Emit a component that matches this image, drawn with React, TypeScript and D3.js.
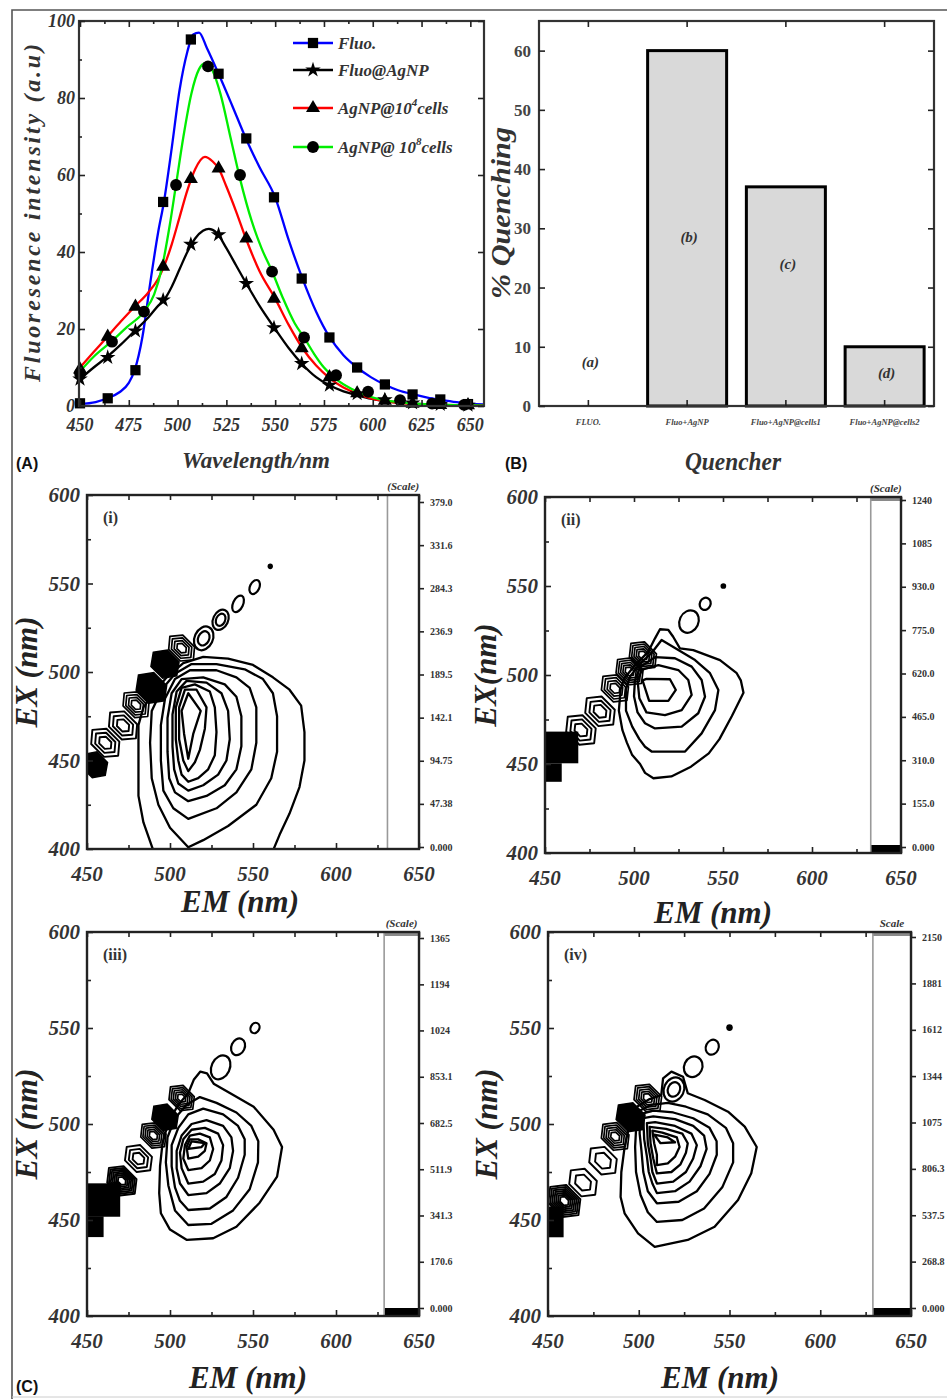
import React, { useEffect, useRef } from 'react';
import * as d3 from 'd3';

const SERIF = '"Liberation Serif", "Times New Roman", Times, serif';
const SANS = '"Liberation Sans", Arial, Helvetica, sans-serif';

// ---------- Panel A: emission spectra [wavelength nm, intensity a.u.] ----------
const fluoCurve = [[450,0.5],[458,1.0],[464,2.0],[470,3.5],[475,6],[478,9.3],[482,18],[486,32],[490,45],[493,53],[497,67],[501,82],[505,92],[508,96.5],[511,97],[515,93],[521,86.3],[528,78],[535,69.5],[542,62],[550,54.2],[557,43],[564,33.1],[571,24.5],[578,17.8],[585,13.2],[592,10],[599,7.5],[606,5.6],[613,4.1],[621,3],[628,2.2],[635,1.6],[643,1],[650,0.6],[657,0.4]];
const fluoMarks = [[450,0.7],[464.2,2.0],[478.4,9.3],[492.6,53],[506.8,95.2],[521,86.3],[535.2,69.5],[549.4,54.2],[563.6,33.1],[577.8,17.8],[592,10],[606.2,5.6],[620.4,3],[634.6,1.7],[648.8,0.5]];

const agnpCurve = [[450,7],[457,10],[464,12.8],[471,16],[478,19.5],[485,23],[490,26],[493,27.5],[497,31],[501,35.5],[505,40],[509,43.5],[513,45.5],[516,46],[520,45],[525,41],[530,36.5],[535,32],[542,26],[550,20],[557,15],[564,10.8],[571,7.5],[578,5.3],[585,3.8],[592,2.8],[599,1.9],[606,1.3],[613,0.9],[621,0.6],[635,0.3],[657,0.1]];
const agnpMarks = [[450,7],[464.2,12.6],[478.4,19.5],[492.6,27.5],[506.8,42],[521,44.5],[535.2,31.8],[549.4,20.3],[563.6,11],[577.8,5.4],[592,3.2],[606.2,1.6],[620.4,0.8],[634.6,0.4],[648.8,0.2]];

const cells4Curve = [[450,10],[457,14],[464,18],[471,22],[478,25.8],[485,29.5],[490,33],[493,36.2],[497,42],[501,49],[505,56],[509,61.5],[514,64.7],[518,63.5],[521,61.7],[525,57],[530,50.5],[535,43.5],[542,35],[550,27.9],[557,21],[564,15],[571,10.5],[578,7.2],[585,4.8],[592,3.2],[599,2.0],[606,1.3],[613,0.8],[621,0.5],[635,0.3],[657,0.1]];
const cells4Marks = [[450,9.5],[464.2,18],[478.4,25.8],[492.6,36.2],[506.8,59],[521,61.7],[535.2,43.5],[549.4,27.9],[563.6,15],[577.8,7.5],[592,3.3],[606.2,1.4],[620.4,0.6],[634.6,0.3],[648.8,0.2]];

const cells8Curve = [[450,9],[457,12.8],[466,16.7],[474,20.5],[482.8,24.5],[488,29],[492,36],[496,47],[499.2,57.5],[503,70],[507,81],[511,87.5],[514,89],[518,87],[522,81],[527,70],[532,59],[538,48],[543,41],[548.4,35],[554,28],[560,21.5],[564.8,17.8],[570,13.5],[575,10],[581.2,7],[589,4.5],[597.6,2.6],[605,1.6],[614,1.0],[622,0.6],[630.4,0.4],[646.8,0.2],[657,0.1]];
const cells8Marks = [[450,8.5],[466.4,16.7],[482.8,24.5],[499.2,57.4],[515.6,88.2],[532,60],[548.4,34.9],[564.8,17.8],[581.2,8],[597.6,3.7],[614,1.5],[630.4,0.6],[646.8,0.3]];

const wlTicks = [450, 475, 500, 525, 550, 575, 600, 625, 650];
const wlMinor = [462.5, 487.5, 512.5, 537.5, 562.5, 587.5, 612.5, 637.5];
const intTicks = [0, 20, 40, 60, 80, 100];
const intMinor = [10, 30, 50, 70, 90];

// ---------- Panel B: % quenching ----------
const quenchers = ['FLUO.', 'Fluo+AgNP', 'Fluo+AgNP@cells1', 'Fluo+AgNP@cells2'];
const quenchValues = [0, 60, 37, 10];
const barTags = ['(a)', '(b)', '(c)', '(d)'];
const tagLevels = [7.5, 28.5, 24, 5.5];
const quenchTicks = [0, 10, 20, 30, 40, 50, 60];

// ---------- Panel C: EEM contour maps [EM nm, EX nm] ----------
const emTicks = [450, 500, 550, 600, 650];
const emMinor = [475, 525, 575, 625];
const exTicks = [400, 450, 500, 550, 600];
const exMinor = [425, 475, 525, 575];

const scaleLabelsI = ['0.000', '47.38', '94.75', '142.1', '189.5', '236.9', '284.3', '331.6', '379.0'];
const scaleLabelsII = ['0.000', '155.0', '310.0', '465.0', '620.0', '775.0', '930.0', '1085', '1240'];
const scaleLabelsIII = ['0.000', '170.6', '341.3', '511.9', '682.5', '853.1', '1024', '1194', '1365'];
const scaleLabelsIV = ['0.000', '268.8', '537.5', '806.3', '1075', '1344', '1612', '1881', '2150'];

const ringsI = [
  [[490,399],[484,415],[481,430],[481,450],[481,470],[484,480],[490,488],[498,497],[508,505],[520,508.5],[535,507.5],[550,504],[562,497],[572,490],[579,481],[581,466],[581,450],[578,435],[572,420],[566,408],[562,399]],
  [[511,401],[520,405],[535,413],[552,425],[561,440],[564.5,455],[564.5,475],[562,488],[556,496],[545,501.5],[528,504.5],[513,504.5],[503,499],[495,490],[489,478],[488,460],[489,440],[493,425],[500,412]],
  [[511,417],[528,423],[540,432],[549,445],[552,460],[552,480],[548,491],[540,497],[528,501],[512,501],[503,496],[497,485],[494.5,470],[494.5,450],[496,433],[502,423]],
  [[511,427],[522,430],[533,436],[540,445],[543,458],[543,475],[540,486],[533,493],[520,497],[507,496],[501,488],[498.5,474],[498.5,455],[499.5,440],[503,432]],
  [[511,433],[520,436],[529,442],[534,450],[536,462],[535,478],[531,488],[522,494],[510,495],[504,489],[501.5,476],[501.5,458],[502.5,445],[505,437]],
  [[511,438],[517,440],[523,445],[527,453],[528,466],[527,480],[524,489],[515,493],[507,491],[503.5,480],[503.5,462],[505,450],[507,442]],
  [[511,444],[515,449],[518,456],[521,468],[522,480],[516,490],[509,490],[505.5,480],[505.5,462],[508,450]],
  [[511,451],[514,465],[518.5,478],[511,488],[507,478],[508.5,465]],
];
const scatterI = [
  [454.6, 447.6, 9, 6.5, 1, 'fill'],
  [461, 460, 11, 6.5, 3, 'hex'],
  [471.7, 469.8, 11, 6.5, 3, 'hex'],
  [479.5, 481.5, 10, 6, 4, 'chev'],
  [488.8, 491, 11, 7.5, 1, 'fill'],
  [497, 504.5, 10, 7, 1, 'fill'],
  [507, 513.5, 10, 6, 4, 'chev'],
  [520.3, 519, 5.5, 7, 2, 'oval'],
  [530.5, 529.5, 4.5, 6, 2, 'oval'],
  [541, 538.5, 3, 5, 1, 'oval'],
  [551, 548, 2.8, 4.2, 1, 'oval'],
  [560.4, 559.7, 1.6, 1.6, 1, 'dot'],
];

const ringsII = [
  [[510.9,442],[521,443],[532,448.5],[542,456],[548,464],[555,477],[561.5,490],[560,497],[557.7,501],[548.3,508.4],[533.3,514],[525.8,515],[522,521.5],[519.3,525.3],[514.6,525.7],[511.8,520.6],[508,513],[501,506],[494.5,498],[492.5,492],[491.5,480],[493.5,469],[496,462],[499,455],[503.4,450],[506.2,445]],
  [[509.9,457],[528.7,457],[538,467.2],[545.5,480.3],[547.4,491.6],[542.7,501],[534.3,508.4],[524.9,514],[515.5,519.7],[510,512.5],[504,507],[498,499.5],[495.5,492],[495.5,480],[499,471],[503,464],[506.2,459.7]],
  [[511.8,470],[526.8,471],[536.1,478.5],[539.9,487.8],[538,497.2],[532.4,504.7],[523,509.4],[511.8,510],[503.5,504.5],[500.5,497],[500,488],[502,479],[506.2,472.9]],
  [[507,479],[517.4,477.5],[526.8,480.3],[532.4,488.8],[530.5,497.2],[524.9,502.8],[513.7,505.6],[504.5,503],[502,497],[503,487]],
  [[504.8,497],[508.5,485.5],[519.3,485.5],[523.5,491.6],[520.2,497.6],[507,497.8]],
];
const scatterII = [
  [459.35, 459.3, 9.35, 8.9, 1, 'rect'],
  [454.7, 445.2, 4.7, 5.2, 1, 'rect'],
  [470.2, 469.1, 10.5, 6.5, 3, 'hex'],
  [480.9, 479.6, 10.5, 6.5, 3, 'hex'],
  [489.3, 492.5, 9.5, 6, 4, 'chev'],
  [497.5, 502, 9.5, 6, 5, 'chev'],
  [505, 511, 9.5, 6, 5, 'chev'],
  [530.9, 530, 5.3, 6.5, 1, 'oval'],
  [540, 540, 3, 3.5, 1, 'oval'],
  [550.2, 550, 1.6, 1.6, 1, 'dot'],
];

const ringsIII = [
  [[510.2,439.6],[526,440.5],[540,446.5],[554,459],[564.5,472.6],[567.5,488],[562.4,497],[550.4,509],[536.3,516],[526.3,521],[522.3,526.4],[518.3,527.3],[514.3,523],[511,516],[505,510],[499,501],[495.5,490],[494,478],[493.5,464],[494.5,453.5],[500,445]],
  [[511,447.4],[525,448],[538,455],[548,466],[553,480],[553.2,491],[549,499],[540,506],[528,511],[518,514],[510,510],[503,503],[498.5,493],[497.5,480],[499,468],[503,455]],
  [[511,455.2],[524,456],[534,462],[541,472],[545,484],[545,492],[541,499],[532,505],[520,508],[511,505],[505,498],[501,489],[501,478],[503,467],[506,460]],
  [[511,463],[522,464],[530,469],[536,477],[538,486],[537,493],[532,499],[522,502],[513,500],[507,494],[504,486],[504,477],[506,469]],
  [[511,469],[520,470],[527,474],[531,481],[532,489],[529,495],[521,498],[513,497],[508,492],[506,485],[507,477]],
  [[511,476],[519,477],[524,481],[526,487],[524,493],[518,495],[512,494],[509,489],[508,482]],
  [[511,482],[517,483],[521,486],[522,490],[517,492],[512,492],[510,488]],
  [[511,487],[519,488],[521,490],[513,491]],
];
const scatterIII = [
  [460, 460.4, 10, 8.7, 1, 'rect'],
  [455, 446.5, 5, 5.4, 1, 'rect'],
  [471, 470.4, 11, 7, 7, 'hex'],
  [481, 482, 10, 6.5, 3, 'hex'],
  [490, 494, 9.5, 6, 5, 'chev'],
  [497, 503.5, 9.5, 6.5, 1, 'fill'],
  [507, 513.5, 9.5, 6, 5, 'chev'],
  [530.5, 529.5, 5.5, 6.5, 1, 'oval'],
  [541, 540.2, 4, 4.5, 1, 'oval'],
  [551.2, 550, 2.6, 2.8, 1, 'oval'],
];

const ringsIV = [
  [[508.8,436],[527,439.6],[541.8,446.5],[554.7,460.4],[562,474.3],[565,488],[558.4,498.6],[549.2,506.4],[536.3,512.5],[527,516],[524.4,524.6],[518,527.3],[513.4,523.8],[512.4,515],[506,513],[499,509],[495,500],[492.2,488],[490.4,475],[490,462],[492.2,453.5],[499.6,443]],
  [[510,449],[524,450],[536,456],[546,467],[552,480],[552,490],[548,498],[538,505],[526,509],[516,511],[507,510],[498.5,506],[498.5,497],[498,488],[498.5,475],[501,463],[505,454]],
  [[510,458.7],[522,459.5],[532,465],[539,474],[543,484],[542.9,491],[539,498],[530,503],[519,506],[508,507],[500.5,505],[500.5,495],[501.5,486],[502.5,475],[505,465]],
  [[510,464],[520,465],[528,470],[534,478],[537.4,487],[536,494],[530,499],[520,502.5],[508,504],[502.5,503],[503,492],[504.5,483],[505.5,475],[507.5,469]],
  [[510,469],[519,470],[526,475],[530,482],[532,489],[529,495],[520,499],[509,501],[504.5,500.5],[505,490],[506.5,482],[507.5,475]],
  [[510,474.3],[518,475],[523,479],[526,485],[527,490],[524,495],[515,497.5],[506,498.5],[506.5,490],[508,482],[509,478]],
  [[510,478.6],[516,479.5],[520,483],[522.5,488],[521,493],[513,495.5],[507.5,496.5],[508.5,490],[510,484]],
  [[508.5,494.5],[512,490],[520,490.5],[516,493]],
];
const scatterIV = [
  [454.3, 449, 4.3, 8, 1, 'rect'],
  [459, 459.9, 11, 7, 7, 'hex'],
  [469.3, 469.5, 9.5, 6, 2, 'hex'],
  [480.3, 480.9, 9.5, 6, 2, 'hex'],
  [487, 493.5, 9.5, 6, 5, 'chev'],
  [495.5, 503.5, 9.5, 6.5, 1, 'fill'],
  [505, 513.5, 9.5, 6, 5, 'chev'],
  [519.4, 518, 5.5, 6.5, 2, 'oval'],
  [530, 529.8, 5, 5.5, 1, 'oval'],
  [540.5, 540, 3.5, 4, 1, 'oval'],
  [550, 550.2, 1.8, 1.8, 1, 'dot'],
];

const series = [
  { label: [['Fluo.', 0]], color: '#0000ff', symbol: d3.symbolSquare, size: 105, curve: fluoCurve, marks: fluoMarks },
  { label: [['Fluo@AgNP', 0]], color: '#000000', symbol: d3.symbolStar, size: 75, curve: agnpCurve, marks: agnpMarks },
  { label: [['AgNP@10', 0], ['4', 1], ['cells', 0]], color: '#ff0000', symbol: d3.symbolTriangle, size: 85, curve: cells4Curve, marks: cells4Marks },
  { label: [['AgNP@ 10', 0], ['8', 1], ['cells', 0]], color: '#00ee00', symbol: d3.symbolCircle, size: 110, curve: cells8Curve, marks: cells8Marks },
];

const eemPanels = [
  { tag: '(i)', rings: ringsI, scatter: scatterI, labels: scaleLabelsI, title: '(Scale)', bands: false, exText: 'EX (nm)',
    x0: 87, x1: 419, y0: 495, y1: 849, barStart: 631, sTop: 502, sBot: 847, exX: 27, emX: 240, emY: 912 },
  { tag: '(ii)', rings: ringsII, scatter: scatterII, labels: scaleLabelsII, title: '(Scale)', bands: true, exText: 'EX(nm)',
    x0: 545, x1: 901, y0: 497, y1: 853, barStart: 633, sTop: 500, sBot: 847, exX: 486, emX: 713, emY: 923 },
  { tag: '(iii)', rings: ringsIII, scatter: scatterIII, labels: scaleLabelsIII, title: '(Scale)', bands: true, exText: 'EX (nm)',
    x0: 87, x1: 419, y0: 932, y1: 1316, barStart: 629, sTop: 938, sBot: 1308, exX: 27, emX: 248, emY: 1388 },
  { tag: '(iv)', rings: ringsIV, scatter: scatterIV, labels: scaleLabelsIV, title: 'Scale', bands: true, exText: 'EX (nm)',
    x0: 548, x1: 911, y0: 932, y1: 1316, barStart: 629, sTop: 937, sBot: 1308, exX: 487, emX: 720, emY: 1388 },
];

function styleTicks(g: any) {
  g.select('.domain').remove();
  g.selectAll('.tick line').attr('stroke', '#222').attr('stroke-width', 1.6);
  g.selectAll('.tick text').remove();
}

function serifText(sel: any, size: number, italic = true) {
  return sel.attr('font-family', SERIF).attr('font-weight', 'bold')
    .attr('font-style', italic ? 'italic' : 'normal').attr('font-size', size).attr('fill', '#333');
}

function drawSpectra(svg: any) {
  const x = d3.scaleLinear().domain([450, 657]).range([80, 484]);
  const y = d3.scaleLinear().domain([0, 100]).range([406, 21]);
  const g = svg.append('g');
  const line = d3.line<number[]>().x(d => x(d[0])).y(d => y(d[1])).curve(d3.curveMonotoneX);

  series.forEach(s => {
    g.append('path').attr('d', line(s.curve as any)).attr('fill', 'none')
      .attr('stroke', s.color).attr('stroke-width', 2.3);
  });
  series.forEach(s => {
    g.append('g').selectAll('path').data(s.marks).join('path')
      .attr('transform', (d: number[]) => `translate(${x(d[0])},${y(d[1])})`)
      .attr('d', d3.symbol(s.symbol, s.size)()).attr('fill', '#000');
  });

  g.append('rect').attr('x', 79).attr('y', 21).attr('width', 405).attr('height', 385)
    .attr('fill', 'none').attr('stroke', '#333').attr('stroke-width', 2.2);

  g.append('g').attr('transform', 'translate(0,406)').call(d3.axisBottom(x).tickValues(wlTicks).tickSize(-6)).call(styleTicks);
  g.append('g').attr('transform', 'translate(0,406)').call(d3.axisBottom(x).tickValues(wlMinor).tickSize(-3)).call(styleTicks);
  g.append('g').attr('transform', 'translate(0,21)').call(d3.axisTop(x).tickValues(wlTicks).tickSize(-6)).call(styleTicks);
  g.append('g').attr('transform', 'translate(0,21)').call(d3.axisTop(x).tickValues(wlMinor).tickSize(-3)).call(styleTicks);
  g.append('g').attr('transform', 'translate(79,0)').call(d3.axisLeft(y).tickValues(intTicks).tickSize(-6)).call(styleTicks);
  g.append('g').attr('transform', 'translate(79,0)').call(d3.axisLeft(y).tickValues(intMinor).tickSize(-3)).call(styleTicks);
  g.append('g').attr('transform', 'translate(484,0)').call(d3.axisRight(y).tickValues(intTicks).tickSize(-6)).call(styleTicks);

  g.append('g').selectAll('text').data(wlTicks).join('text')
    .attr('x', (d: number) => x(d)).attr('y', 431).attr('text-anchor', 'middle').text((d: number) => d)
    .call(serifText, 18);
  g.append('g').selectAll('text').data(intTicks).join('text')
    .attr('x', 75).attr('y', (d: number) => y(d) + 6).attr('text-anchor', 'end').text((d: number) => d)
    .call(serifText, 18);

  // legend
  const lg = g.append('g');
  const rows = [43, 70, 108, 147];
  series.forEach((s, i) => {
    const ry = rows[i];
    lg.append('line').attr('x1', 293).attr('x2', 333).attr('y1', ry).attr('y2', ry)
      .attr('stroke', s.color).attr('stroke-width', 2.3);
    lg.append('path').attr('transform', `translate(313,${ry})`).attr('d', d3.symbol(s.symbol, s.size)()).attr('fill', '#000');
    const t = lg.append('text').attr('x', 338).attr('y', ry + 6).call(serifText, 17);
    s.label.forEach(([txt, sup], k) => {
      const sp = t.append('tspan').text(txt as string);
      if (sup) sp.attr('dy', -8).attr('font-size', 11);
      else if (k > 0) sp.attr('dy', 8);
    });
  });

  svg.append('text').attr('transform', 'translate(40,213) rotate(-90)').attr('text-anchor', 'middle')
    .call(serifText, 24).attr('textLength', 338).attr('lengthAdjust', 'spacing').text('Fluoresence intensity (a.u)');
  svg.append('text').attr('x', 256).attr('y', 468).attr('text-anchor', 'middle')
    .call(serifText, 24).attr('textLength', 148).attr('lengthAdjust', 'spacingAndGlyphs').text('Wavelength/nm');
  svg.append('text').attr('x', 16).attr('y', 469).attr('font-family', SANS).attr('font-weight', 'bold')
    .attr('font-size', 16).attr('fill', '#111').text('(A)');
}

function drawBars(svg: any) {
  const x = d3.scaleBand().domain(quenchers).range([539, 934]).paddingInner(0.2).paddingOuter(0.1);
  const y = d3.scaleLinear().domain([0, 65]).range([406, 21]);
  const g = svg.append('g');

  g.append('g').selectAll('rect').data(quenchers.filter((_, i) => quenchValues[i] > 0)).join('rect')
    .attr('x', (d: string) => x(d)).attr('width', x.bandwidth())
    .attr('y', (d: string) => y(quenchValues[quenchers.indexOf(d)]))
    .attr('height', (d: string) => y(0) - y(quenchValues[quenchers.indexOf(d)]))
    .attr('fill', '#d9d9d9').attr('stroke', '#000').attr('stroke-width', 3);

  g.append('g').selectAll('text').data(barTags).join('text')
    .attr('x', (_: any, i: number) => (x(quenchers[i]) as number) + x.bandwidth() / 2 + 2)
    .attr('y', (_: any, i: number) => y(tagLevels[i]) + 5).attr('text-anchor', 'middle')
    .call(serifText, 15).text((d: string) => d);

  g.append('rect').attr('x', 539).attr('y', 21).attr('width', 395).attr('height', 385)
    .attr('fill', 'none').attr('stroke', '#333').attr('stroke-width', 2.2);

  const xc = (d: string) => (x(d) as number) + x.bandwidth() / 2;
  g.append('g').selectAll('line').data(quenchers).join('line')
    .attr('x1', xc).attr('x2', xc).attr('y1', 406).attr('y2', 400).attr('stroke', '#222').attr('stroke-width', 1.6);
  g.append('g').selectAll('line').data(quenchers).join('line')
    .attr('x1', xc).attr('x2', xc).attr('y1', 21).attr('y2', 27).attr('stroke', '#222').attr('stroke-width', 1.6);
  g.append('g').attr('transform', 'translate(539,0)').call(d3.axisLeft(y).tickValues(quenchTicks).tickSize(-6)).call(styleTicks);
  g.append('g').attr('transform', 'translate(934,0)').call(d3.axisRight(y).tickValues(quenchTicks).tickSize(-6)).call(styleTicks);

  g.append('g').selectAll('text').data(quenchTicks).join('text')
    .attr('x', 531).attr('y', (d: number) => y(d) + 6).attr('text-anchor', 'end')
    .call(serifText, 17, false).attr('fill', '#444').text((d: number) => d);
  g.append('g').selectAll('text').data(quenchers).join('text')
    .attr('x', xc).attr('y', 425).attr('text-anchor', 'middle')
    .call(serifText, 8.5).attr('fill', '#444').text((d: string) => d);

  svg.append('text').attr('transform', 'translate(510,213) rotate(-90)').attr('text-anchor', 'middle')
    .call(serifText, 27).attr('textLength', 172).attr('lengthAdjust', 'spacingAndGlyphs').text('% Quenching');
  svg.append('text').attr('x', 733).attr('y', 470).attr('text-anchor', 'middle')
    .call(serifText, 26).attr('textLength', 96).attr('lengthAdjust', 'spacingAndGlyphs').text('Quencher');
  svg.append('text').attr('x', 505).attr('y', 469).attr('font-family', SANS).attr('font-weight', 'bold')
    .attr('font-size', 16).attr('fill', '#111').text('(B)');
}

function drawBlob(g: any, b: any[], x: any, y: any) {
  const [em, ex, w, h, rings, kind] = b;
  const kx = x(em + 1) - x(em);
  const ky = y(ex) - y(ex + 1);
  const node = g.append('g').attr('transform', `translate(${x(em)},${y(ex)})`);
  if (kind === 'rect') {
    node.append('rect').attr('x', -w * kx).attr('y', -h * ky).attr('width', 2 * w * kx).attr('height', 2 * h * ky).attr('fill', '#000');
    return;
  }
  if (kind === 'dot') {
    node.append('ellipse').attr('rx', w * kx).attr('ry', h * ky).attr('fill', '#000');
    return;
  }
  if (kind === 'oval') {
    for (let i = 0; i < rings; i++) {
      const s = 1 - (i * 0.8) / rings;
      node.append('ellipse').attr('rx', w * kx * s).attr('ry', h * ky * s).attr('transform', 'rotate(25)')
        .attr('fill', 'none').attr('stroke', '#000').attr('stroke-width', 2.2);
    }
    return;
  }
  // hexagonal blobs lie across the Rayleigh diagonal
  const hex = (s: number) => {
    const a = w * kx * s, c = h * kx * s;
    return d3.line()([[-a, 0], [-a / 2, -c], [a / 2, -c], [a, 0], [a / 2, c], [-a / 2, c]] as any) + 'Z';
  };
  const hg = node.append('g').attr('transform', 'rotate(45)');
  if (kind === 'fill') {
    hg.append('path').attr('d', hex(1)).attr('fill', '#000').attr('stroke', '#000').attr('stroke-width', 1.5);
    return;
  }
  for (let i = 0; i < rings; i++) {
    const s = 1 - (i * 0.85) / rings;
    hg.append('path').attr('d', hex(s)).attr('fill', 'none').attr('stroke', '#000')
      .attr('stroke-width', kind === 'chev' ? 1.7 : 1.9).attr('stroke-linejoin', 'round');
  }
}

function drawEEM(svg: any, p: any, idx: number) {
  const x = d3.scaleLinear().domain([450, 650]).range([p.x0, p.x1]);
  const y = d3.scaleLinear().domain([400, 600]).range([p.y1, p.y0]);
  const g = svg.append('g');
  const bx = x(p.barStart);
  const clipId = `eem-clip-${idx}`;
  svg.append('clipPath').attr('id', clipId).append('rect')
    .attr('x', p.x0).attr('y', p.y0).attr('width', bx - p.x0).attr('height', p.y1 - p.y0);

  const plot = g.append('g').attr('clip-path', `url(#${clipId})`);
  const ring = d3.line<number[]>().x(d => x(d[0])).y(d => y(d[1])).curve(d3.curveLinearClosed);
  p.rings.forEach((r: number[][]) => {
    plot.append('path').attr('d', ring(r as any)).attr('fill', 'none').attr('stroke', '#000')
      .attr('stroke-width', 2.3).attr('stroke-linejoin', 'round');
  });
  p.scatter.forEach((b: any[]) => drawBlob(plot, b, x, y));

  // colour-scale strip
  if (p.bands) {
    g.append('rect').attr('x', bx).attr('y', p.y0).attr('width', p.x1 - bx).attr('height', 4).attr('fill', '#8a8a8a');
    g.append('rect').attr('x', bx).attr('y', p.y1 - 8).attr('width', p.x1 - bx).attr('height', 8).attr('fill', '#000');
  }
  g.append('line').attr('x1', bx).attr('x2', bx).attr('y1', p.y0).attr('y2', p.y1)
    .attr('stroke', '#999').attr('stroke-width', 1.6);

  g.append('rect').attr('x', p.x0).attr('y', p.y0).attr('width', p.x1 - p.x0).attr('height', p.y1 - p.y0)
    .attr('fill', 'none').attr('stroke', '#222').attr('stroke-width', 2.4);

  g.append('g').attr('transform', `translate(0,${p.y1})`).call(d3.axisBottom(x).tickValues(emTicks).tickSize(-6)).call(styleTicks);
  g.append('g').attr('transform', `translate(0,${p.y1})`).call(d3.axisBottom(x).tickValues(emMinor).tickSize(-4)).call(styleTicks);
  g.append('g').attr('transform', `translate(0,${p.y0})`).call(d3.axisTop(x).tickValues(emTicks.concat(emMinor)).tickSize(-5)).call(styleTicks);
  g.append('g').attr('transform', `translate(${p.x0},0)`).call(d3.axisLeft(y).tickValues(exTicks).tickSize(-6)).call(styleTicks);
  g.append('g').attr('transform', `translate(${p.x0},0)`).call(d3.axisLeft(y).tickValues(exMinor).tickSize(-4)).call(styleTicks);

  const maxV = parseFloat(p.labels[p.labels.length - 1]);
  const s = d3.scaleLinear().domain([0, maxV]).range([p.sBot, p.sTop]);
  const sv = p.labels.map((l: string) => parseFloat(l));
  g.append('g').attr('transform', `translate(${p.x1},0)`).call(d3.axisRight(s).tickValues(sv).tickSize(5)).call(styleTicks);
  g.append('g').selectAll('text').data(p.labels).join('text')
    .attr('x', p.x1 + 11).attr('y', (d: string) => s(parseFloat(d)) + 3.5)
    .call(serifText, 10, false).text((d: string) => d);
  g.append('text').attr('x', (bx + p.x1) / 2).attr('y', p.y0 - 5).attr('text-anchor', 'middle')
    .call(serifText, 11).text(p.title);

  g.append('g').selectAll('text').data(emTicks).join('text')
    .attr('x', (d: number) => x(d)).attr('y', p.y1 + 32).attr('text-anchor', 'middle').text((d: number) => d)
    .call(serifText, 21);
  g.append('g').selectAll('text').data(exTicks).join('text')
    .attr('x', p.x0 - 7).attr('y', (d: number) => y(d) + 7).attr('text-anchor', 'end').text((d: number) => d)
    .call(serifText, 21);

  g.append('text').attr('x', p.x0 + 16).attr('y', p.y0 + 28).call(serifText, 16, false).text(p.tag);

  g.append('text').attr('x', p.emX).attr('y', p.emY).attr('text-anchor', 'middle')
    .call(serifText, 31).attr('fill', '#222').text('EM (nm)');
  g.append('text').attr('transform', `translate(${p.exX + 10},${(p.y0 + p.y1) / 2}) rotate(-90)`).attr('text-anchor', 'middle')
    .call(serifText, 31).attr('fill', '#222').text(p.exText);
}

export default function App() {
  const ref = useRef<SVGSVGElement | null>(null);

  useEffect(() => {
    const svg = d3.select(ref.current);
    svg.selectAll('*').remove();
    svg.append('rect').attr('width', 947).attr('height', 1399).attr('fill', '#fff');

    drawSpectra(svg);
    drawBars(svg);
    eemPanels.forEach((p, i) => drawEEM(svg, p, i));

    svg.append('text').attr('x', 16).attr('y', 1392).attr('font-family', SANS).attr('font-weight', 'bold')
      .attr('font-size', 16).attr('fill', '#111').text('(C)');

    // figure border
    svg.append('path').attr('d', 'M12,1399 L12,10 L947,10').attr('fill', 'none')
      .attr('stroke', '#555').attr('stroke-width', 1.6);
    svg.append('line').attr('x1', 12).attr('x2', 947).attr('y1', 1397).attr('y2', 1397)
      .attr('stroke', '#ccc').attr('stroke-width', 1);
  }, []);

  return (
    <svg ref={ref} width={947} height={1399}
      style={{ position: 'absolute', left: 0, top: 0, display: 'block' }} />
  );
}
